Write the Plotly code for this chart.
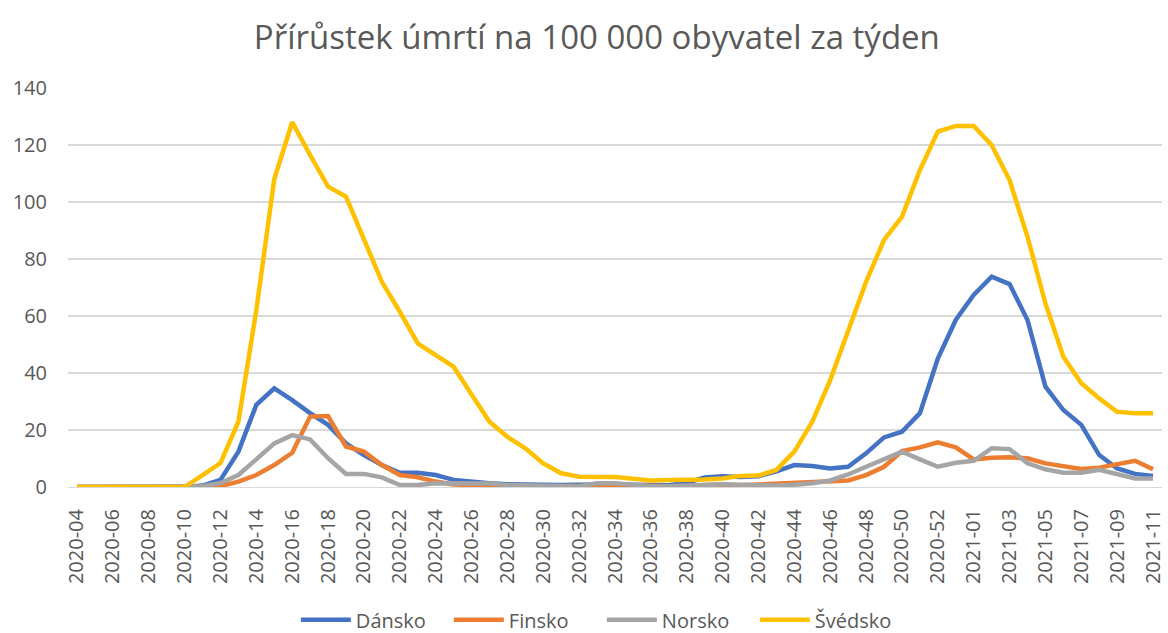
import plotly.graph_objects as go

weeks = [f"2020-{w:02d}" for w in range(4, 54)] + [f"2021-{w:02d}" for w in range(1, 12)]
tick_labels = weeks[::2]

denmark = [0, 0, 0, 0, 0, 0, 0,
           0.5, 2.5, 12.4, 28.8, 34.6, 30.5, 25.9, 21.8, 15.3, 11.2, 7.7, 5.0, 5.0, 4.2, 2.5,
           1.8, 1.3, 1.0, 0.8, 0.8, 0.7, 0.8, 1.0, 1.0, 0.8, 0.6, 0.6, 1.5, 3.3, 3.8, 3.5, 3.8,
           5.5, 7.7, 7.4, 6.5, 7.1, 11.8, 17.4, 19.4, 25.9, 45.1, 58.6,
           67.4, 73.8, 71.2, 58.6, 35.2, 27.0, 21.8, 11.2, 6.5, 4.6, 3.9]
finland = [0, 0, 0, 0, 0, 0, 0, 0,
           0.3, 1.9, 4.2, 7.7, 12.0, 24.7, 24.9, 14.2, 12.4, 7.7, 4.2, 3.4, 1.9, 0.9,
           0.6, 0.4, 0.3, 0.2, 0.2, 0.2, 0.2, 0.4, 0.7, 0.5, 0.3, 0.3, 0.4, 0.6, 0.9, 0.6, 0.9,
           1.3, 1.4, 1.6, 1.9, 2.3, 4.2, 7.1, 12.6, 13.9, 15.7, 13.9,
           9.7, 10.3, 10.4, 10.1, 8.3, 7.1, 6.3, 6.8, 8.1, 9.2, 6.2]
norway = [0, 0, 0, 0, 0, 0, 0,
          0.3, 1.4, 4.2, 9.7, 15.3, 18.2, 16.7, 10.1, 4.6, 4.6, 3.4, 0.7, 0.7, 1.3, 1.3,
          1.3, 1.2, 0.7, 0.6, 0.5, 0.3, 0.3, 1.3, 1.3, 0.8, 0.3, 0.3, 0.6, 0.8, 1.0, 0.8, 0.6,
          0.5, 0.8, 1.3, 2.3, 4.4, 7.1, 9.7, 12.4, 9.7, 7.1, 8.5,
          9.2, 13.6, 13.3, 8.3, 6.2, 5.0, 5.0, 6.0, 4.6, 3.0, 3.0]
sweden = [0, 0, 0, 0, 0, 0, 0,
          4.2, 8.4, 22.9, 62.0, 108.0, 128.0, 116.5, 105.4, 101.9, 86.7, 72.0, 61.5, 50.4, 46.3, 42.2,
          32.5, 22.9, 17.6, 13.6, 8.3, 4.8, 3.6, 3.4, 3.5, 2.9, 2.3, 2.5, 2.5, 2.6, 3.0, 3.9, 4.0,
          6.0, 12.4, 22.9, 37.5, 54.5, 72.0, 86.7, 94.8, 111.2, 124.7, 126.7,
          126.7, 120.0, 107.7, 87.8, 64.4, 45.7, 36.4, 31.1, 26.4, 25.9, 25.9]

series = [("Dánsko", denmark, "#4472C4"),
          ("Finsko", finland, "#ED7D31"),
          ("Norsko", norway, "#A5A5A5"),
          ("Švédsko", sweden, "#FFC000")]

FONT = "Open Sans"
TXT = "#595959"

fig = go.Figure()
for name, vals, color in series:
    fig.add_trace(go.Scatter(x=weeks, y=vals, name=name, mode="lines",
                             line=dict(color=color, width=4.5)))

fig.update_layout(
    width=1168, height=633, autosize=False,
    paper_bgcolor="white", plot_bgcolor="white",
    margin=dict(l=68, r=6, t=88, b=146, autoexpand=False),
    font=dict(family=FONT, color=TXT),
    title=dict(text="Přírůstek úmrtí na 100 000 obyvatel za týden",
               x=0.511, xref="container", xanchor="center",
               y=1 - 37 / 633, yref="container", yanchor="middle",
               font=dict(family=FONT, size=33, color=TXT)),
    legend=dict(orientation="h", x=0.488, xanchor="center",
                y=-0.333, yanchor="middle",
                font=dict(family=FONT, size=20, color=TXT),
                itemwidth=50, entrywidth=88, entrywidthmode="pixels"),
    xaxis=dict(type="category", categoryorder="array", categoryarray=weeks,
               range=[-0.5, len(weeks) - 0.5],
               tickmode="array", tickvals=tick_labels, ticktext=tick_labels,
               tickangle=-90, tickfont=dict(family=FONT, size=20, color=TXT),
               showgrid=False, showline=True, linecolor="#D9D9D9", linewidth=1,
               ticks="", ticklabelstandoff=13, zeroline=False),
    yaxis=dict(range=[0, 140], tickmode="array", tickvals=list(range(0, 141, 20)),
               tickfont=dict(family=FONT, size=20, color=TXT),
               showgrid=True, gridcolor="#D9D9D9", gridwidth=1.5,
               zeroline=False, ticks="", ticklabelstandoff=20, showline=False),
)

fig.write_html("out.html", config={"displayModeBar": False},
               post_script="document.body.style.margin='0';document.body.style.padding='0';document.body.style.overflow='hidden';")
